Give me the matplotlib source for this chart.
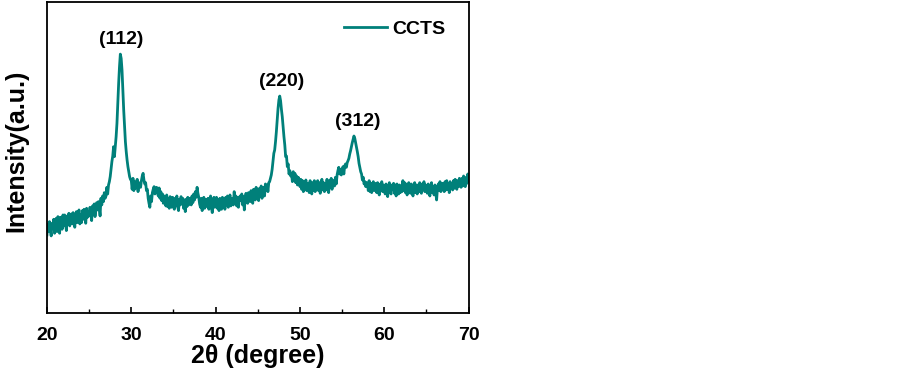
import numpy as np
import matplotlib
matplotlib.use('Agg')
import matplotlib.pyplot as plt

# XRD pattern, 0.1 degree steps from 20 to 70
two_theta = np.round(np.arange(20.0, 70.05, 0.1), 1)
intensity = [
    235, 268, 245, 275, 250, 232, 270, 255, 282, 240,  # 20
    258, 285, 245, 290, 262, 240, 288, 270, 252, 295,  # 21
    262, 295, 270, 248, 292, 275, 300, 262, 285, 298,  # 22
    268, 302, 280, 258, 296, 305, 272, 290, 310, 268,  # 23
    295, 272, 308, 282, 312, 290, 270, 315, 288, 305,  # 24
    292, 318, 300, 278, 322, 302, 328, 290, 312, 332,  # 25
    310, 335, 315, 292, 345, 325, 352, 335, 362, 345,  # 26
    352, 378, 358, 385, 395, 410, 432, 455, 472, 500,  # 27
    470, 500, 530, 570, 630, 690, 740, 778, 765, 730,  # 28
    670, 610, 560, 515, 485, 460, 440, 425, 410, 402,  # 29
    398, 372, 405, 368, 395, 375, 388, 402, 365, 392,  # 30
    385, 378, 398, 412, 420, 400, 388, 392, 368, 372,  # 31
    345, 330, 318, 352, 335, 362, 372, 380, 358, 375,  # 32
    378, 362, 352, 376, 345, 365, 338, 358, 330, 352,  # 33
    345, 322, 355, 320, 345, 315, 350, 330, 318, 348,  # 34
    338, 312, 345, 322, 352, 320, 308, 342, 325, 350,  # 35
    328, 345, 315, 340, 305, 342, 320, 348, 325, 340,  # 36
    345, 325, 352, 332, 358, 340, 365, 348, 378, 360,  # 37
    348, 328, 318, 345, 308, 335, 348, 315, 342, 322,  # 38
    320, 345, 312, 340, 352, 318, 302, 338, 348, 318,  # 39
    325, 348, 315, 340, 308, 345, 322, 312, 348, 320,  # 40
    338, 312, 348, 325, 352, 318, 340, 355, 322, 342,  # 41
    345, 325, 365, 330, 352, 322, 348, 318, 342, 352,  # 42
    338, 358, 325, 350, 310, 342, 360, 335, 330, 362,  # 43
    352, 335, 368, 345, 330, 372, 348, 340, 378, 352,  # 44
    358, 338, 375, 352, 382, 345, 365, 378, 352, 388,  # 45
    368, 385, 365, 392, 395, 405, 415, 432, 455, 480,  # 46
    490, 515, 545, 580, 615, 640, 652, 638, 612, 590,  # 47
    560, 530, 505, 470, 472, 440, 448, 418, 428, 412,  # 48
    418, 395, 425, 398, 420, 392, 412, 385, 408, 398,  # 49
    380, 402, 372, 398, 365, 392, 375, 400, 368, 390,  # 50
    385, 362, 398, 372, 358, 392, 368, 398, 365, 388,  # 51
    375, 398, 368, 392, 360, 385, 402, 370, 392, 365,  # 52
    390, 370, 402, 378, 362, 398, 380, 405, 372, 398,  # 53
    398, 382, 408, 388, 415, 428, 438, 418, 432, 415,  # 54
    428, 440, 418, 442, 448, 438, 452, 458, 465, 478,  # 55
    488, 500, 512, 522, 532, 525, 512, 498, 485, 470,  # 56
    450, 438, 425, 418, 400, 408, 388, 395, 380, 392,  # 57
    388, 368, 398, 365, 390, 362, 385, 395, 368, 390,  # 58
    382, 362, 392, 370, 355, 388, 368, 395, 365, 385,  # 59
    378, 358, 388, 362, 350, 382, 392, 365, 358, 385,  # 60
    372, 390, 360, 385, 352, 388, 365, 358, 385, 362,  # 61
    382, 365, 398, 368, 392, 362, 388, 355, 382, 392,  # 62
    372, 360, 388, 365, 352, 385, 392, 362, 385, 358,  # 63
    385, 365, 392, 370, 360, 388, 372, 395, 365, 385,  # 64
    372, 360, 388, 368, 352, 382, 392, 362, 378, 355,  # 65
    385, 362, 340, 375, 388, 368, 395, 365, 385, 390,  # 66
    378, 365, 395, 370, 398, 372, 390, 362, 395, 380,  # 67
    388, 370, 398, 375, 402, 382, 372, 398, 380, 405,  # 68
    392, 378, 405, 382, 412, 388, 380, 408, 390, 418,  # 69
    395,  # 70
]

peak_labels = ['(112)', '(220)', '(312)']
peak_pos = [28.75, 47.8, 56.8]
peak_label_y = [796, 669, 551]

line_color = '#00807a'
plt.rcParams['font.family'] = ['Liberation Sans', 'DejaVu Sans']
plt.rcParams['font.weight'] = 'bold'

fig = plt.figure(figsize=(9.03, 3.68), dpi=100)
ax = fig.add_axes([0.052, 0.149, 0.467, 0.846])

ax.plot(two_theta, intensity, color=line_color, lw=2.0, label='CCTS')

for lab, px, py in zip(peak_labels, peak_pos, peak_label_y):
    ax.text(px, py, lab, ha='center', va='bottom', fontsize=14, fontweight='bold')

ax.set_xlim(20, 70)
ax.set_ylim(0, 935)
ax.set_xticks([20, 30, 40, 50, 60, 70])
ax.set_xticks([25, 35, 45, 55, 65], minor=True)
ax.set_yticks([])
ax.tick_params(axis='x', which='major', direction='in', length=4, width=1.2,
               labelsize=14, pad=10)
ax.tick_params(axis='x', which='minor', direction='in', length=3, width=1.0)
for lbl in ax.get_xticklabels():
    lbl.set_fontweight('bold')
for sp in ax.spines.values():
    sp.set_linewidth(1.3)

ax.set_xlabel('2θ (degree)', fontsize=18, fontweight='bold', labelpad=0)
ax.set_ylabel('Intensity(a.u.)', fontsize=18, fontweight='bold')
ax.yaxis.set_label_coords(-0.045, 0.52)

ax.legend(loc='upper right', bbox_to_anchor=(0.945, 0.94), frameon=False,
          handlelength=2.2, handletextpad=0.3, borderaxespad=0, borderpad=0,
          prop={'weight': 'bold', 'size': 14})

fig.savefig('out.png', dpi=100)
